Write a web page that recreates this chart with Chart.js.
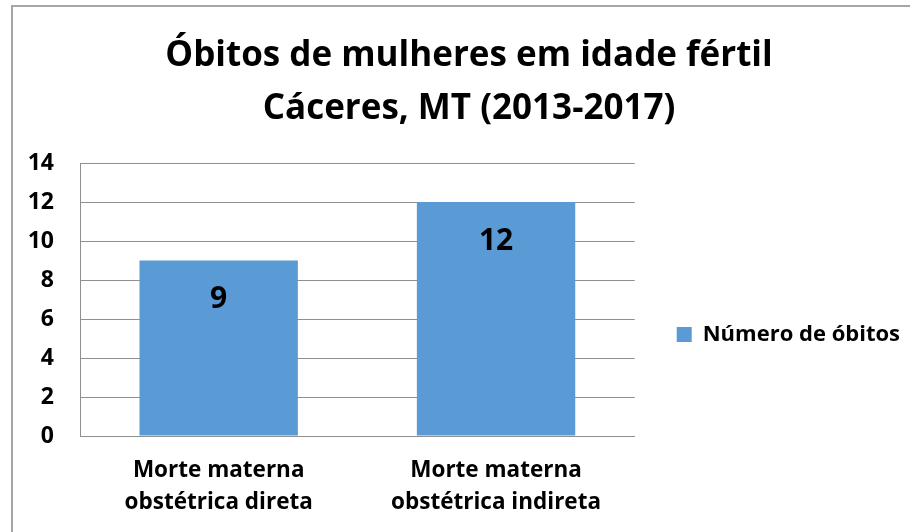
<!DOCTYPE html>
<html lang="pt-BR">
<head>
<meta charset="utf-8">
<script src="https://cdn.jsdelivr.net/npm/chart.js@4"></script>
<style>
    html, body {
        margin: 0;
        padding: 0;
        background: #fff;
        overflow: hidden;
    }
    .frame {
        position: absolute;
        left: 11px;
        top: 5px;
        width: 1000px;
        height: 600px;
        border: 2px solid #a6a6a6;
    }
    .chart-box {
        position: absolute;
        left: 0;
        top: 0;
        width: 910px;
        height: 532px;
    }
</style>
</head>
<body>
<div class="frame"></div>
<div class="chart-box"><canvas id="chart"></canvas></div>
<script>
const titleLines = ['Óbitos de mulheres em idade fértil', 'Cáceres, MT (2013-2017)'];
const categories = [
    ['Morte materna', 'obstétrica direta'],
    ['Morte materna', 'obstétrica indireta'],
];
const seriesName = 'Número de óbitos';
const deaths = [9, 12];
const yTicks = [0, 2, 4, 6, 8, 10, 12, 14];

const FONT = '"Open Sans"';
const BAR_COLOR = '#5B9BD5';
const GRID_COLOR = '#8f8f8f';

// values written inside the top of each bar, like Excel's "inside end"
const barValueLabels = {
    id: 'barValueLabels',
    afterDatasetsDraw(chart) {
        const { ctx } = chart;
        const meta = chart.getDatasetMeta(0);
        const values = chart.data.datasets[0].data;

        ctx.save();
        ctx.font = `bold 30px ${FONT}`;
        ctx.fillStyle = '#000';
        ctx.textAlign = 'center';
        ctx.textBaseline = 'middle';
        meta.data.forEach((bar, i) => {
            ctx.fillText(String(values[i]), bar.x, bar.y + 39);
        });
        ctx.restore();
    },
};

new Chart(document.getElementById('chart'), {
    type: 'bar',
    data: {
        labels: categories,
        datasets: [
            {
                label: seriesName,
                data: deaths,
                backgroundColor: BAR_COLOR,
                borderWidth: 0,
                barPercentage: 0.571,
                categoryPercentage: 1,
            },
        ],
    },
    options: {
        responsive: true,
        maintainAspectRatio: false,
        animation: false,
        events: [],
        layout: {
            padding: { left: 28, right: 0, top: 0, bottom: 0 },
        },
        scales: {
            x: {
                grid: { display: false, drawTicks: false },
                border: { color: GRID_COLOR, width: 1 },
                ticks: {
                    padding: 18,
                    color: '#000',
                    font: { family: FONT, size: 22.5, weight: 'bold', lineHeight: 1.45 },
                    maxRotation: 0,
                },
                afterFit: (scale) => { scale.height = 96; },
            },
            y: {
                min: yTicks[0],
                max: yTicks[yTicks.length - 1],
                afterBuildTicks: (scale) => {
                    scale.ticks = yTicks.map((value) => ({ value }));
                },
                grid: { color: GRID_COLOR, lineWidth: 1, drawTicks: false },
                border: { color: GRID_COLOR, width: 1 },
                ticks: {
                    padding: 26,
                    color: '#000',
                    font: { family: FONT, size: 23, weight: 'bold' },
                },
                afterFit: (scale) => { scale.width = 52; },
            },
        },
        plugins: {
            title: {
                display: true,
                text: titleLines,
                color: '#000',
                font: { family: FONT, size: 35, weight: 'bold', lineHeight: 1.5 },
                padding: { top: 30, bottom: 28 },
            },
            legend: {
                position: 'right',
                fullSize: false,
                maxWidth: 277,
                title: {
                    display: true,
                    text: '',
                    font: { size: 10, lineHeight: 1 },
                    padding: { top: 60, bottom: 0 },
                },
                labels: {
                    boxWidth: 15,
                    boxHeight: 15,
                    padding: 42,
                    color: '#000',
                    font: { family: FONT, size: 22, weight: 'bold' },
                },
            },
            tooltip: { enabled: false },
        },
    },
    plugins: [barValueLabels],
});
</script>
</body>
</html>
